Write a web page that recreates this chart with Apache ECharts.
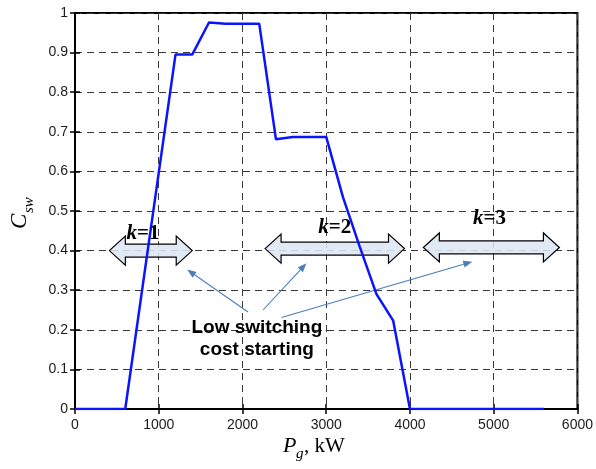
<!DOCTYPE html>
<html>
<head>
<meta charset="utf-8">
<script src="https://cdn.jsdelivr.net/npm/echarts@6/dist/echarts.min.js"></script>
<style>
  html, body { margin: 0; padding: 0; background: #fff; }
  #chart { width: 596px; height: 469px; }
</style>
</head>
<body>
<div id="chart"></div>
<script>
// Generator power (kW) and switching coefficient C_sw
const powerKW = [0, 600, 1200, 1400, 1600, 1800, 2200, 2400, 2600, 3000, 3200, 3400, 3600, 3800, 4000, 5600];
const cSw     = [0, 0, 0.895, 0.895, 0.976, 0.973, 0.973, 0.681, 0.687, 0.687, 0.535, 0.41, 0.29, 0.223, 0, 0];

const xTicks = [0, 1000, 2000, 3000, 4000, 5000, 6000];
const yTicks = [0, 0.1, 0.2, 0.3, 0.4, 0.5, 0.6, 0.7, 0.8, 0.9, 1];

// Operating ranges for each number of running units k (kW from, kW to, C_sw level)
const kLabels = ['k=1', 'k=2', 'k=3'];
const kRanges = [[410, 1400, 0.40], [2270, 3935, 0.405], [4160, 5785, 0.408]];
const kLabelAt = [[811, 0.444], [3101, 0.457], [4950, 0.482]];

// Callout: text anchor and the three pointers (start -> tip), in data units
const calloutText = 'Low switching\ncost starting';
const calloutAt = [2172, 0.177];
const pointers = [
  [[2066, 0.245], [1340, 0.352]],
  [[2246, 0.250], [2764, 0.368]],
  [[2466, 0.231], [4744, 0.372]]
];

const chart = echarts.init(document.getElementById('chart'), null, { renderer: 'canvas' });

const tickFont = { fontFamily: 'Liberation Sans, Arial, sans-serif', fontSize: 14, color: '#1a1a1a' };
const gridDash = { type: [7, 5], color: '#3a3a3a', width: 1 };

const option = {
  backgroundColor: '#fff',
  animation: false,
  grid: { left: 75, right: 18, top: 13, bottom: 60, show: true, borderColor: '#000', borderWidth: 2 },
  xAxis: [{
    type: 'value', min: 0, max: 6000, interval: 1000,
    axisLine: { show: true, lineStyle: { color: '#000', width: 2 } },
    axisTick: { show: true, inside: true, length: 5, lineStyle: { color: '#000', width: 1.5 } },
    axisLabel: Object.assign({ margin: 9, formatter: v => xTicks.includes(v) ? String(v) : '' }, tickFont),
    splitLine: { show: true, lineStyle: gridDash }
  }, {
    type: 'value', min: 0, max: 6000, interval: 1000, position: 'top',
    axisLine: { show: true, lineStyle: { color: '#000', width: 2 } },
    axisTick: { show: true, inside: true, length: 5, lineStyle: { color: '#000', width: 1.5 } },
    axisLabel: { show: false }, splitLine: { show: false }
  }],
  yAxis: [{
    type: 'value', min: 0, max: 1, interval: 0.1,
    axisLine: { show: true, lineStyle: { color: '#000', width: 2 } },
    axisTick: { show: true, inside: true, length: 5, lineStyle: { color: '#000', width: 1.5 } },
    axisLabel: Object.assign({ margin: 7, formatter: v => {
      const t = yTicks.find(y => Math.abs(y - v) < 1e-6);
      return t === undefined ? '' : String(+t.toFixed(1));
    } }, tickFont),
    splitLine: { show: true, lineStyle: gridDash }
  }, {
    type: 'value', min: 0, max: 1, interval: 0.1, position: 'right',
    axisLine: { show: true, lineStyle: { color: '#000', width: 2 } },
    axisTick: { show: true, inside: true, length: 5, lineStyle: { color: '#000', width: 1.5 } },
    axisLabel: { show: false }, splitLine: { show: false }
  }],
  series: [{
    type: 'line',
    data: powerKW.map((p, i) => [p, cSw[i]]),
    symbol: 'none',
    z: 5,
    lineStyle: { color: '#0a14ff', width: 2.5 }
  }]
};

chart.setOption(option);

function px(pt) { return chart.convertToPixel({ xAxisIndex: 0, yAxisIndex: 0 }, pt); }

function doubleArrow(x0, x1, yc) {
  const hl = 16, hh = 14.5, bh = 6.5;
  return [
    [x0, yc], [x0 + hl, yc - hh], [x0 + hl, yc - bh], [x1 - hl, yc - bh], [x1 - hl, yc - hh],
    [x1, yc], [x1 - hl, yc + hh], [x1 - hl, yc + bh], [x0 + hl, yc + bh], [x0 + hl, yc + hh]
  ];
}

const elements = [];

kRanges.forEach((r, i) => {
  const a = px([r[0], r[2]]);
  const b = px([r[1], r[2]]);
  elements.push({
    type: 'polygon', z: 3,
    shape: { points: doubleArrow(a[0], b[0], a[1]) },
    style: { fill: 'rgba(220,230,242,0.88)', stroke: '#000', lineWidth: 1.2 }
  });
  const lp = px(kLabelAt[i]);
  const parts = kLabels[i].split('=');
  elements.push({
    type: 'text', z: 6, x: lp[0], y: lp[1],
    style: {
      text: '{k|' + parts[0] + '}{n|=' + parts[1] + '}',
      align: 'center', verticalAlign: 'middle',
      rich: {
        k: { fontFamily: 'Liberation Serif, Times New Roman, serif', fontStyle: 'italic', fontWeight: 'bold', fontSize: 21, fill: '#000' },
        n: { fontFamily: 'Liberation Serif, Times New Roman, serif', fontWeight: 'bold', fontSize: 21, fill: '#000' }
      }
    }
  });
});

pointers.forEach(([s, t]) => {
  const p0 = px(s), p1 = px(t);
  const dx = p1[0] - p0[0], dy = p1[1] - p0[1];
  const len = Math.hypot(dx, dy), ux = dx / len, uy = dy / len;
  const hl = 9, hw = 3.5;
  const bx = p1[0] - ux * hl, by = p1[1] - uy * hl;
  elements.push({
    type: 'line', z: 4,
    shape: { x1: p0[0], y1: p0[1], x2: bx, y2: by },
    style: { stroke: '#4a7ebb', lineWidth: 1.1 }
  });
  elements.push({
    type: 'polygon', z: 4,
    shape: { points: [[p1[0], p1[1]], [bx - uy * hw, by + ux * hw], [bx + uy * hw, by - ux * hw]] },
    style: { fill: '#4a7ebb' }
  });
});

const cp = px(calloutAt);
elements.push({
  type: 'text', z: 6, x: cp[0], y: cp[1],
  style: {
    text: calloutText, align: 'center', verticalAlign: 'middle',
    fontFamily: 'Liberation Sans, Arial, sans-serif', fontWeight: 'bold', fontSize: 19,
    lineHeight: 22, fill: '#000'
  }
});

// Axis titles: P_g, kW and C_sw
const serif = 'Liberation Serif, Times New Roman, serif';
elements.push({
  type: 'group', x: 283, y: 446,
  children: [
    { type: 'text', x: 0, y: 0, style: { text: 'P', fontFamily: serif, fontStyle: 'italic', fontSize: 22, fill: '#000', verticalAlign: 'middle' } },
    { type: 'text', x: 13, y: 8, style: { text: 'g', fontFamily: serif, fontStyle: 'italic', fontSize: 15, fill: '#000', verticalAlign: 'middle' } },
    { type: 'text', x: 21, y: 0, style: { text: ', kW', fontFamily: serif, fontSize: 21, fill: '#000', verticalAlign: 'middle' } }
  ]
});
elements.push({
  type: 'group', x: 20, y: 229, rotation: Math.PI / 2,
  children: [
    { type: 'text', x: 0, y: 0, style: { text: 'C', fontFamily: serif, fontStyle: 'italic', fontSize: 23, fill: '#000', verticalAlign: 'middle' } },
    { type: 'text', x: 16, y: 9, style: { text: 'sw', fontFamily: serif, fontStyle: 'italic', fontSize: 15, fill: '#000', verticalAlign: 'middle' } }
  ]
});

chart.setOption({ graphic: { elements: elements } });
</script>
</body>
</html>
